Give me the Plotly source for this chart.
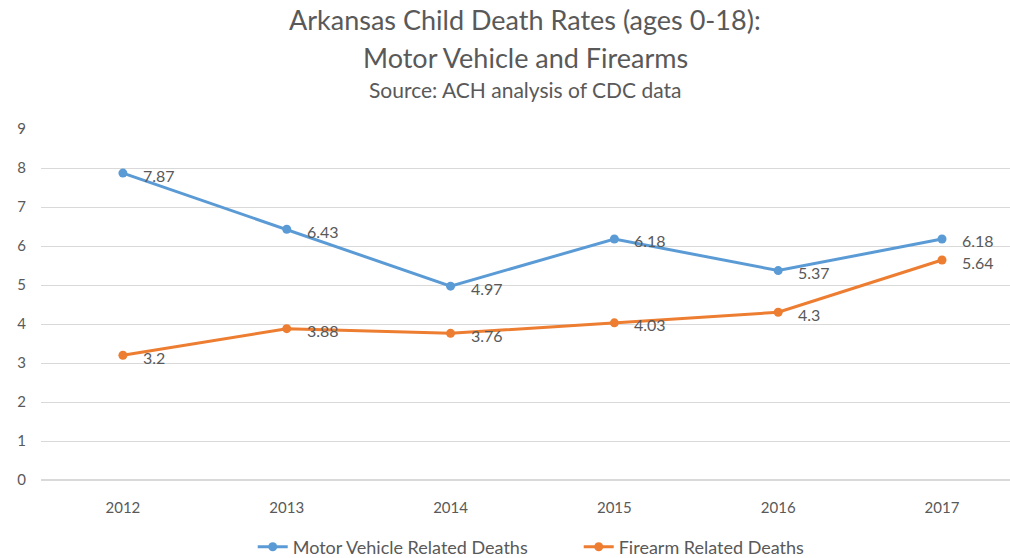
import plotly.graph_objects as go

years = ['2012', '2013', '2014', '2015', '2016', '2017']
motor_vehicle = [7.87, 6.43, 4.97, 6.18, 5.37, 6.18]
firearm = [3.2, 3.88, 3.76, 4.03, 4.3, 5.64]
y_ticks = [0, 1, 2, 3, 4, 5, 6, 7, 8, 9]

txt_col = '#595959'
font_name = 'Lato'
blue = '#5B9BD5'
orange = '#ED7D31'

fig = go.Figure()
fig.add_trace(go.Scatter(x=years, y=motor_vehicle, name='Motor Vehicle Related Deaths', mode='lines+markers',
                         line=dict(color=blue, width=3), marker=dict(size=9, color=blue)))
fig.add_trace(go.Scatter(x=years, y=firearm, name='Firearm Related Deaths', mode='lines+markers',
                         line=dict(color=orange, width=3), marker=dict(size=9, color=orange)))

# data labels, right of each point and a touch lower, like Excel
# (category axis -> annotation x given as category index)
for series in (motor_vehicle, firearm):
    for i, v in enumerate(series):
        fig.add_annotation(x=i, y=v, text=str(v), showarrow=False, xanchor='left', yanchor='middle',
                           xshift=18, yshift=-2, font=dict(size=16, color=txt_col, family=font_name))

# title lines as annotations (pixel positions converted to paper coords, plot height 351)
titles = [('Arkansas Child Death Rates (ages 0-18):', 20, 27),
          ('Motor Vehicle and Firearms', 57, 27),
          ('Source: ACH analysis of CDC data', 90, 21)]
for t, ypx, sz in titles:
    fig.add_annotation(text=t, xref='paper', yref='paper', x=(525 - 41) / 969, y=(480 - ypx) / 351,
                       showarrow=False, xanchor='center', yanchor='middle',
                       font=dict(size=sz, color=txt_col, family=font_name))

fig.update_layout(
    width=1010, height=558,
    margin=dict(l=41, r=0, t=129, b=78, autoexpand=False),
    paper_bgcolor='white', plot_bgcolor='white',
    font=dict(family=font_name, color=txt_col, size=14),
    showlegend=True,
    # both entries get the same width, so nudge the box right to keep the items where Excel had them
    legend=dict(orientation='h', x=0.573, xanchor='center', xref='container', y=(558 - 547) / 558,
                yanchor='middle', yref='container', entrywidth=281, entrywidthmode='pixels',
                font=dict(size=18, color=txt_col)),
)
fig.update_xaxes(type='category', range=[-0.5, 5.415], showgrid=False, showline=False, ticks='',
                 automargin=False, ticklabelstandoff=17, tickfont=dict(size=15, color=txt_col))
fig.update_yaxes(range=[0, 9], tickvals=y_ticks, showgrid=True, gridcolor='#D9D9D9', gridwidth=1,
                 zeroline=True, zerolinecolor='#D9D9D9', showline=False, ticks='',
                 automargin=False, ticklabelstandoff=14, tickfont=dict(size=15, color=txt_col))

# page body has a default 8px margin which would push the figure off the window
fig.write_html('out.html', config={'displayModeBar': False},
               post_script="document.body.style.margin='0';")
